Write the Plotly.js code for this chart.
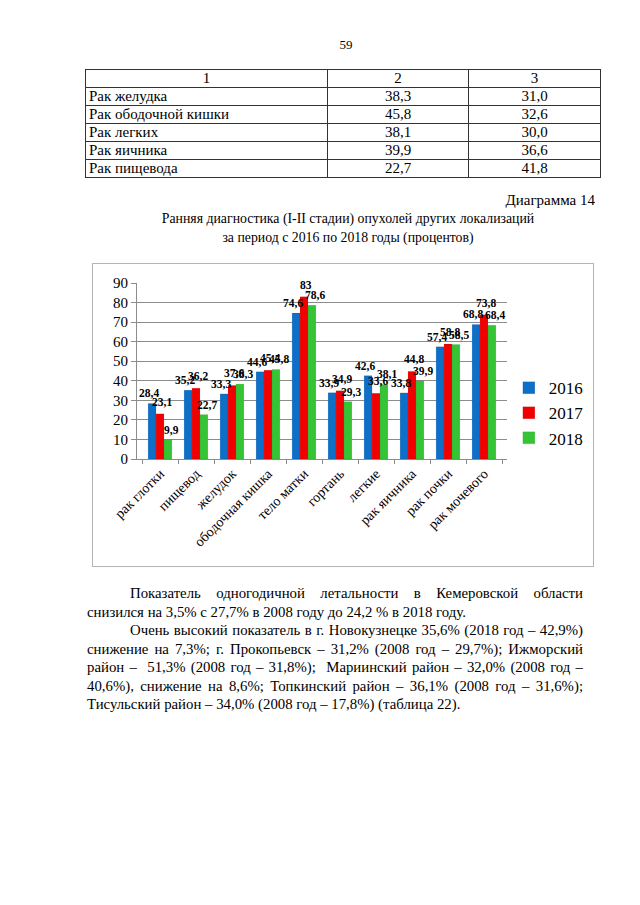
<!DOCTYPE html>
<html><head><meta charset="utf-8">
<script src="https://cdn.plot.ly/plotly-3.0.1.min.js"></script>
<style>
body{margin:0;background:#fff;color:#000;}
#page{position:relative;width:640px;height:905px;overflow:hidden;}
.ser{font-family:'Liberation Serif','Tinos',serif;}
.abs{position:absolute;white-space:nowrap;}
table{position:absolute;left:85px;top:69px;border-collapse:collapse;font-size:15px;table-layout:fixed;}
td{border:1px solid #333;height:17px;padding:0 3px;line-height:17px;}
td.c{text-align:center;}
.line{position:absolute;left:87px;width:496px;font-size:14.8px;line-height:18px;white-space:nowrap;}
.j{text-align:justify;text-align-last:justify;white-space:normal;}
#wrap{position:absolute;left:92px;top:263px;width:500px;height:302px;border:1.5px solid #b4b4b4;}
</style></head>
<body><div id="page" class="ser">
<div class="abs ser" style="left:0;width:692px;text-align:center;top:37px;font-size:13px;">59</div>
<table id="tbl" class="ser"><colgroup><col style="width:242px"><col style="width:141px"><col style="width:132px"></colgroup><tbody></tbody></table>
<div class="abs ser" style="right:45px;top:192px;font-size:15px;">Диаграмма 14</div>
<div class="abs ser" style="left:0;width:696px;text-align:center;top:209px;font-size:13.8px;line-height:19px;">Ранняя диагностика (I-II стадии) опухолей других локализаций<br>за период с 2016 по 2018 годы (процентов)</div>
<div id="wrap"><div id="chart" style="width:500px;height:302px;"></div></div>
<div class="line j ser" style="top:584px;left:130px;width:453px;">Показатель одногодичной летальности в Кемеровской области</div>
<div class="line ser" style="top:603px;">снизился на 3,5% с 27,7% в 2008 году до 24,2 % в 2018 году.</div>
<div class="line j ser" style="top:621px;left:130px;width:453px;">Очень высокий показатель в г. Новокузнецке 35,6% (2018 год – 42,9%)</div>
<div class="line j ser" style="top:640px;">снижение на 7,3%; г. Прокопьевск – 31,2% (2008 год – 29,7%); Ижморский</div>
<div class="line j ser" style="top:658px;">район –&nbsp; 51,3% (2008 год – 31,8%);&nbsp; Мариинский район – 32,0% (2008 год –</div>
<div class="line j ser" style="top:677px;">40,6%), снижение на 8,6%; Топкинский район – 36,1% (2008 год – 31,6%);</div>
<div class="line ser" style="top:695px;">Тисульский район – 34,0% (2008 год – 17,8%) (таблица 22).</div>
</div>
<script>
// Table data
const tableHeader = ['1', '2', '3'];
const tableRows = ['Рак желудка', 'Рак ободочной кишки', 'Рак легких', 'Рак яичника', 'Рак пищевода'];
const tableCol2 = ['38,3', '45,8', '38,1', '39,9', '22,7'];
const tableCol3 = ['31,0', '32,6', '30,0', '36,6', '41,8'];

// Chart data
const categories = ['рак глотки', 'пищевод', 'желудок', 'ободочная кишка', 'тело матки', 'гортань', 'легкие', 'рак яичника', 'рак почки', 'рак мочевого'];
const years = ['2016', '2017', '2018'];
const v2016 = [28.4, 35.2, 33.3, 44.6, 74.6, 33.9, 42.6, 33.8, 57.4, 68.8];
const v2017 = [23.1, 36.2, 37.6, 45.4, 83, 34.9, 33.6, 44.8, 58.8, 73.8];
const v2018 = [9.9, 22.7, 38.3, 45.8, 78.6, 29.3, 38.1, 39.9, 58.5, 68.4];
const colors = ['#0D6FC8', '#F20000', '#35C435'];

const tb = document.querySelector('#tbl tbody');
let html = '<tr>' + tableHeader.map(h => '<td class="c">' + h + '</td>').join('') + '</tr>';
tableRows.forEach((r, i) => {
  html += '<tr><td>' + r + '</td><td class="c">' + tableCol2[i] + '</td><td class="c">' + tableCol3[i] + '</td></tr>';
});
tb.innerHTML = html;

const FONT = 'Liberation Serif';
const fmt = v => String(v).replace('.', ',');
const series = [v2016, v2017, v2018];
const traces = series.map((vals, i) => ({
  type: 'bar',
  name: years[i],
  x: categories,
  y: vals,
  marker: {color: colors[i], line: {color: 'rgba(0,0,0,0.15)', width: 0.5}},
  hoverinfo: 'x+y'
}));

// value labels placed through the axis scales, offset to each bar in the group
const barShift = [-8, 0, 8];
const labelShiftX = [-3, 2, 3];
const annotations = [];
series.forEach((vals, i) => {
  vals.forEach((v, j) => {
    annotations.push({
      x: categories[j], y: v, xref: 'x', yref: 'y',
      text: '<b>' + fmt(v) + '</b>', showarrow: false,
      xshift: barShift[i] + labelShiftX[i], yshift: 10 + (i === 1 ? 2 : 0),
      font: {family: FONT, size: 11.5, color: '#000'}
    });
  });
});

const layout = {
  width: 500, height: 302,
  margin: {l: 44, r: 86, t: 19, b: 107, autoexpand: false},
  paper_bgcolor: '#fff', plot_bgcolor: '#fff',
  barmode: 'group', bargap: 0.34, bargroupgap: 0,
  font: {family: FONT, color: '#000'},
  annotations: annotations,
  xaxis: {
    type: 'category', tickangle: -45,
    tickfont: {size: 14, family: FONT},
    showline: true, linecolor: '#8c8c8c', linewidth: 1,
    ticks: 'outside', ticklen: 4, tickcolor: '#8c8c8c', tickson: 'boundaries',
    showgrid: false, automargin: false
  },
  yaxis: {
    range: [0, 90], dtick: 10, tick0: 0,
    tickfont: {size: 15, family: FONT},
    showline: true, linecolor: '#8c8c8c', linewidth: 1,
    ticks: 'outside', ticklen: 5, tickcolor: '#8c8c8c',
    gridcolor: '#8c8c8c', gridwidth: 1, zeroline: false, automargin: false
  },
  legend: {
    x: 1.005, xanchor: 'left', y: 0.505, yanchor: 'top',
    font: {size: 17, family: FONT},
    itemwidth: 30, tracegroupgap: 0
  },
  showlegend: true
};

Plotly.newPlot('chart', traces, layout, {displayModeBar: false, staticPlot: true});
</script>
</body></html>
